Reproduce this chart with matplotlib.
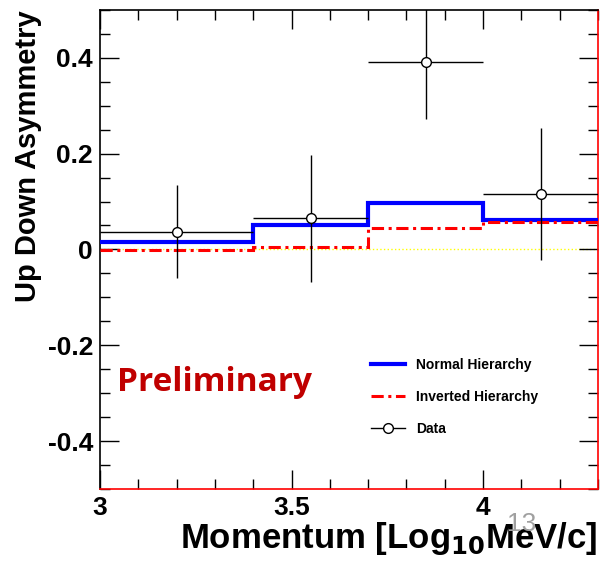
import numpy as np
import matplotlib
matplotlib.use('Agg')
import matplotlib.pyplot as plt
from matplotlib.ticker import MultipleLocator
from matplotlib.lines import Line2D

# bin edges in log10 momentum
edges = [3.0, 3.4, 3.7, 4.0, 4.3]
normal = [0.015, 0.052, 0.096, 0.062]
inverted = [-0.002, 0.006, 0.044, 0.058]

data_x = [3.2, 3.55, 3.85, 4.15]
data_y = [0.037, 0.065, 0.392, 0.115]
data_yerr = [0.097, 0.133, 0.12, 0.138]
data_xlo = [3.0, 3.4, 3.7, 4.0]
data_xhi = [3.4, 3.7, 4.0, 4.3]

plt.rcParams['font.family'] = ['Liberation Sans', 'DejaVu Sans']

fig = plt.figure(figsize=(6.11, 5.65), dpi=100)
ax = fig.add_axes([0.1637, 0.1345, 0.815, 0.848])

# step histograms
ax.stairs(normal, edges, color='#0000ff', lw=3, baseline=None, zorder=3)
ax.stairs(inverted, edges, color='#ff0000', lw=2.2, ls=(0, (4, 1.5, 1, 1.5)),
          baseline=None, zorder=3)
ax.axhline(0, color='#ffff00', lw=1, ls=':', zorder=1)

xerr = [np.array(data_x) - np.array(data_xlo), np.array(data_xhi) - np.array(data_x)]
ax.errorbar(data_x, data_y, yerr=data_yerr, xerr=xerr, fmt='o', color='black',
            mfc='white', mec='black', ms=7, elinewidth=1, capsize=0, zorder=4)

ax.set_xlim(3.0, 4.3)
ax.set_ylim(-0.5, 0.5)
ax.xaxis.set_minor_locator(MultipleLocator(0.1))
ax.yaxis.set_minor_locator(MultipleLocator(0.05))
ax.set_xticks([3, 3.5, 4])
ax.set_xticklabels(['3', '3.5', '4'])
ax.set_yticks([-0.4, -0.2, 0, 0.2, 0.4])
ax.set_yticklabels(['-0.4', '-0.2', '0', '0.2', '0.4'])
ax.tick_params(which='both', direction='in', top=True, right=True, width=1)
ax.tick_params(which='major', length=14, labelsize=19, pad=5)
ax.tick_params(which='minor', length=7)
for lab in ax.get_xticklabels() + ax.get_yticklabels():
    lab.set_fontweight('bold')

ax.spines['right'].set_color('#ff0000')
ax.spines['bottom'].set_color('#ff0000')
for s in ax.spines.values():
    s.set_linewidth(1.2)

ax.set_ylabel('Up Down Asymmetry', fontsize=21, fontweight='bold', labelpad=4,
              loc='top')
ax.set_xlabel(r'Momentum [Log$_{\mathbf{10}}$MeV/c]', fontsize=25, fontweight='bold',
              loc='right', labelpad=0)

ax.text(0.035, 0.205, 'Preliminary', transform=ax.transAxes, fontsize=24,
        fontweight='bold', color='#c00000', family=['Open Sans', 'DejaVu Sans'])

handles = [
    Line2D([], [], color='#0000ff', lw=3),
    Line2D([], [], color='#ff0000', lw=2.2, ls=(0, (4, 1.5, 1, 1.5))),
    Line2D([], [], color='black', lw=1, marker='o', mfc='white', mec='black', ms=7),
]
ax.legend(handles, ['Normal Hierarchy', 'Inverted Hierarchy', 'Data'],
          loc='upper left', bbox_to_anchor=(0.52, 0.3),
          frameon=False, prop={'size': 10, 'weight': 'bold'},
          handlelength=2.4, handletextpad=0.8, labelspacing=1.3)

fig.text(0.83, 0.06, '13', fontsize=19, color='#a0a0a0')

fig.savefig('out.png', dpi=100)
